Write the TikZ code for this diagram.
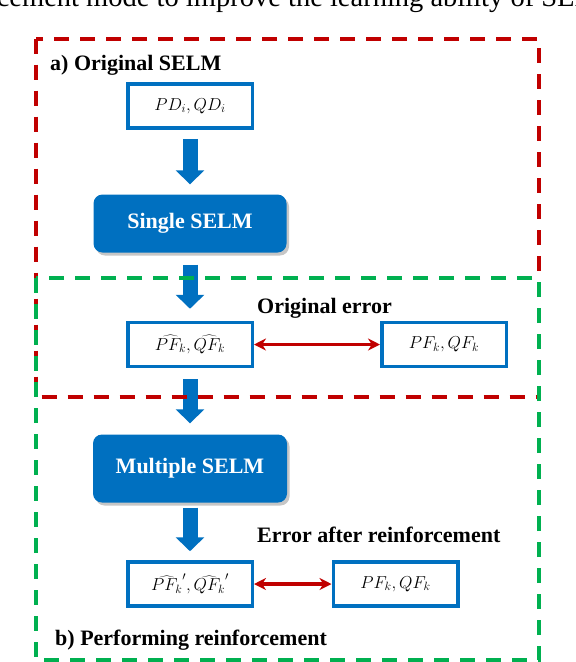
\documentclass[tikz,border=0pt]{standalone}
\usepackage{fontspec}
\setmainfont{Liberation Serif}
\usetikzlibrary{arrows.meta,shadows}
\definecolor{selmblue}{HTML}{0070C0}
\definecolor{selmred}{HTML}{C00000}
\definecolor{selmgreen}{HTML}{00B050}
\begin{document}
\begin{tikzpicture}[x=1pt,y=-1pt,
  databox/.style={draw=selmblue, line width=3.5pt, minimum width=124.5pt, minimum height=44pt, inner sep=0pt, font=\fontsize{17}{19}\selectfont},
  selmbox/.style={fill=selmblue, rounded corners=9pt, inner sep=0pt, text=white, font=\fontsize{22}{24}\selectfont\bfseries, drop shadow={shadow xshift=2.5pt, shadow yshift=-3pt, opacity=0.45}},
  flowarrow/.style={draw=selmblue, line width=15pt, -{Triangle[width=28pt,length=14pt]}},
  errarrow/.style={draw=selmred, line width=3.2pt, {Stealth[length=12pt,width=12pt]}-{Stealth[length=12pt,width=12pt]}},
  lbl/.style={font=\fontsize{22}{24}\selectfont\bfseries, inner sep=0pt},
  redframe/.style={draw=selmred, line width=4pt, dash pattern=on 15pt off 11pt},
  greenframe/.style={draw=selmgreen, line width=4pt, dash pattern=on 15pt off 11pt},
]
\useasboundingbox (0,0) rectangle (576,662);

% cut-off caption line at the top
\node[anchor=base west, inner sep=0pt, font=\fontsize{28.5}{30}\selectfont] (cap) at (86,6)
  {\llap{reinforcement\ }mode to improve the learning ability of SELM};

% nodes
\node[databox] (pd) at (190,106) {$PD_i,QD_i$};
\node[selmbox, minimum width=193pt, minimum height=58pt] (single) at (190,223.5) {Single SELM};
\node[databox] (pfh) at (190,344.5) {$\widehat{PF_k},\widehat{QF_k}$};
\node[databox] (pf1) at (444,344.5) {$PF_k,QF_k$};
\node[selmbox, minimum width=194pt, minimum height=68pt] (multi) at (190,468.5) {Multiple SELM};
\node[databox] (pfh2) at (190,584) {$\widehat{PF_k}',\widehat{QF_k}'$};
\node[databox] (pf2) at (395.5,584) {$PF_k,QF_k$};

% flow arrows
\draw[flowarrow, shorten <=9pt, shorten >=10pt] (pd) -- (single);
\draw[flowarrow, shorten <=12pt, shorten >=12pt] (single) -- (pfh);
\draw[flowarrow, shorten <=11pt, shorten >=11pt] (pfh) -- (multi);
\draw[flowarrow, shorten <=5pt, shorten >=9pt] (multi) -- (pfh2);

% error arrows
\draw[errarrow] (pfh) -- (pf1);
\draw[errarrow] (pfh2) -- (pf2);

% labels
\node[lbl, anchor=west] (la) at (50,65) {a) Original SELM};
\node[lbl] (lerr) at (324.5,308) {Original error};
\node[lbl, anchor=west] (lerr2) at (257,535) {Error after reinforcement};
\node[lbl, anchor=west] (lb) at (55,640) {b) Performing reinforcement};

% frames
\draw[redframe] (36,38.5) rectangle (539,397);
\draw[greenframe] (36,278) rectangle (539,660);
\end{tikzpicture}
\end{document}
